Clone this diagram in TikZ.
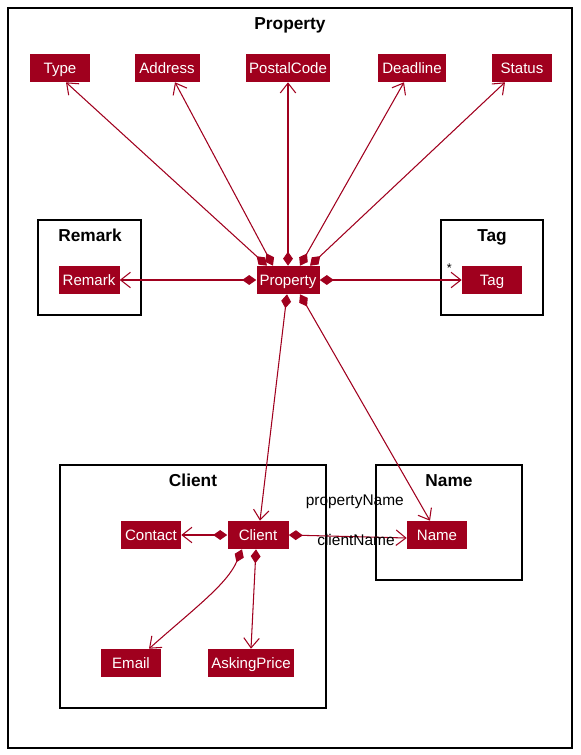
\documentclass[tikz,border=0pt]{standalone}
\usepackage{fontspec}
\setmainfont{Liberation Sans}
\usepackage{tikz}
\usetikzlibrary{arrows.meta}
\usepackage{xcolor}
\definecolor{umlred}{HTML}{A0001E}
\newdimen\px
\px=0.025cm

\begin{document}
\begin{tikzpicture}[x=0.025cm,y=-0.025cm]

		\tikzset{cls/.style = {shape=rectangle,fill=umlred,text=white,inner sep=1pt,minimum height=28\px,minimum width=60\px,text height=1.65ex,text depth=0.3ex,font=\fontsize{10.7}{12}\selectfont}}
		\tikzset{pkg/.style = {draw=black,line width=1.1pt}}
		\tikzset{pkgtitle/.style = {text height=1.55ex,text depth=0.4ex,yshift=-2\px,font=\fontsize{12.3}{14}\selectfont\bfseries}}
		\tikzset{edge/.style = {draw=umlred,line width=0.75pt,{Diamond[length=10pt,width=7pt]}-{Straight Barb[length=7pt,width=11pt]}}}
		\tikzset{lbl/.style = {font=\fontsize{11}{13}\selectfont}}
		\useasboundingbox (0,0) rectangle (580,755);
		% packages
		\draw[pkg] (8,8) rectangle (572,748);
		\node[pkgtitle] (tprop) at (290,23) {Property};
		\draw[pkg] (38,220) rectangle (141,315);
		\node[pkgtitle] (tremark) at (90,235) {Remark};
		\draw[pkg] (441,220) rectangle (543,315);
		\node[pkgtitle] (ttag) at (492,235) {Tag};
		\draw[pkg] (60,465) rectangle (326,708);
		\node[pkgtitle] (tclient) at (193,480) {Client};
		\draw[pkg] (376,465) rectangle (522,580);
		\node[pkgtitle] (tname) at (449,480) {Name};
		% classes
		% top row
		\node[cls] (type) at (60,68) {Type};
		\node[cls, minimum width=65\px] (address) at (167,68) {Address};
		\node[cls, minimum width=84\px] (postal) at (288,68) {PostalCode};
		\node[cls, minimum width=68\px] (deadline) at (412,68) {Deadline};
		\node[cls] (status) at (522,68) {Status};
		% middle row
		\node[cls, minimum width=61\px] (remark) at (89,280) {Remark};
		\node[cls, minimum width=63\px] (property) at (288,280) {Property};
		\node[cls] (tag) at (492,280) {Tag};
		% client and name
		\node[cls, minimum width=61\px] (client) at (258,535) {Client};
		\node[cls] (contact) at (151,535) {Contact};
		\node[cls] (name) at (437,535) {Name};
		\node[cls] (email) at (131,663) {Email};
		\node[cls, minimum width=86\px] (asking) at (251,663) {AskingPrice};

		% edges
		% Property edges
		\draw[edge] ([xshift=-21\px]property.north) to ([xshift=6\px]type.south);
		\draw[edge] ([xshift=-15\px]property.north) to ([xshift=8\px]address.south);
		\draw[edge] (property.north) to (postal.south);
		\draw[edge] ([xshift=12\px]property.north) to ([xshift=-8\px]deadline.south);
		\draw[edge] ([xshift=22\px]property.north) to ([xshift=-17\px]status.south);
		\draw[edge] (property.west) to (remark.east);
		\draw[edge] (property.east) to node[pos=1, above left, inner sep=1pt, xshift=-8\px, yshift=6\px, font=\small] {*} (tag.west);
		\draw[edge] ([xshift=-1\px]property.south) to ([xshift=2\px]client.north);
		\draw[edge] ([xshift=12\px]property.south) to node[lbl, pos=0.9, anchor=east, xshift=-8\px, yshift=-4\px] {propertyName} ([xshift=-7\px]name.north);
		% Client edges
		\draw[edge] (client.west) to (contact.east);
		\draw[edge] (client.east) to node[lbl, pos=0.57, yshift=-3\px] {clientName} ([yshift=-3\px]name.west);
		\draw[edge] ([xshift=-16\px]client.south) .. controls +(-15,35) and +(45,-40) .. ([xshift=18\px]email.north);
		\draw[edge] ([xshift=-2\px]client.south) to (asking.north);

\end{tikzpicture}
\end{document}
